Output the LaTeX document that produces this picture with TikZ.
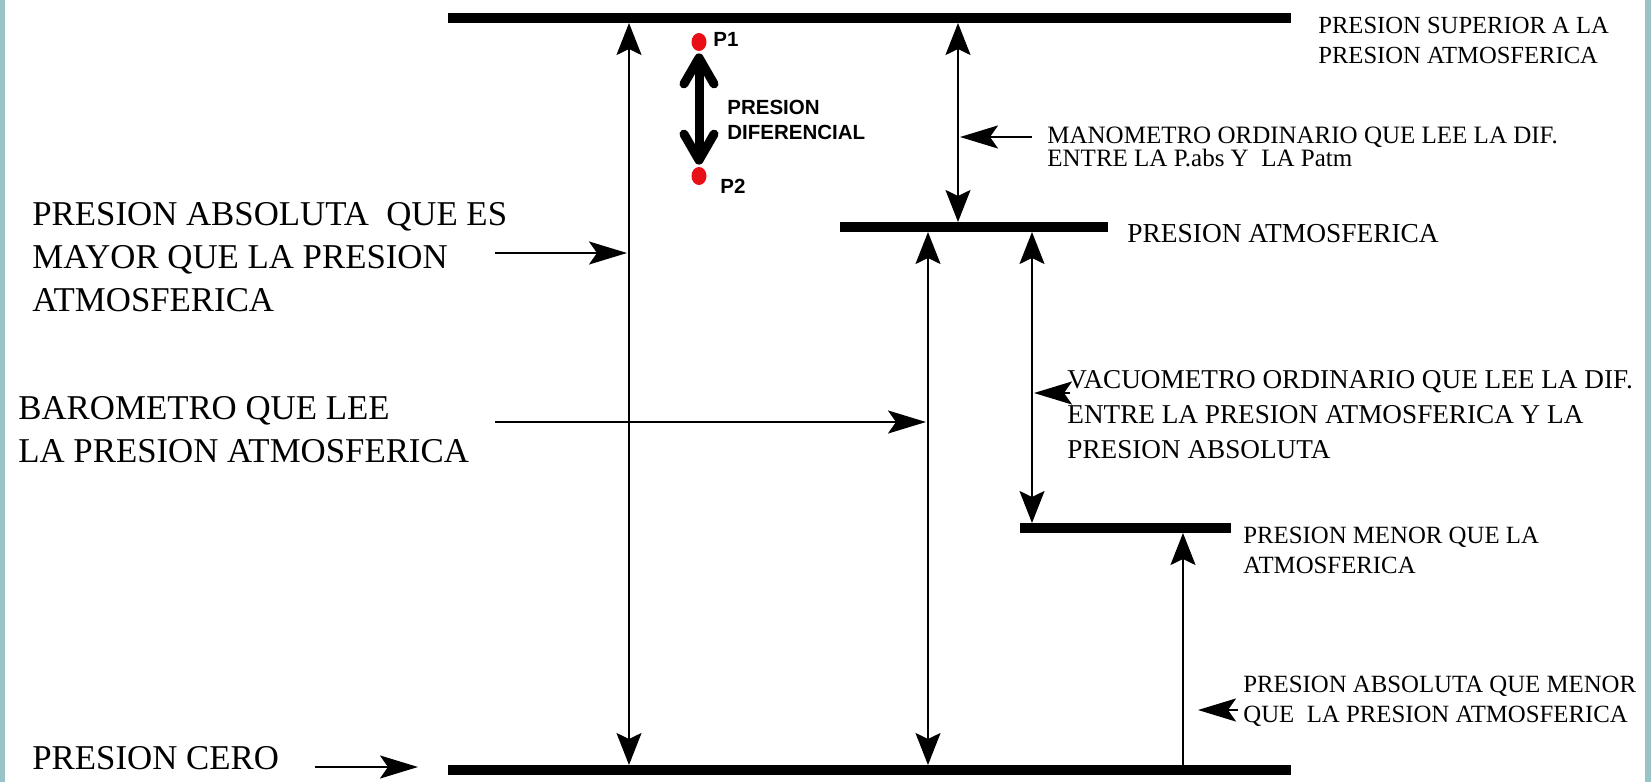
\documentclass[tikz,border=0pt]{standalone}
\usepackage{fontspec}
\setmainfont{Liberation Serif}
\newfontfamily\sansbold{Liberation Sans}
\usetikzlibrary{arrows.meta,shapes.geometric}
\definecolor{side_teal}{RGB}{152, 196, 199}
\definecolor{pt_red}{RGB}{232, 16, 22}
\tikzstyle{bar}=[line width=5pt]
\tikzstyle{gauge}=[line width=1pt,
  {Stealth[length=16pt,width=12.5pt,inset=3pt]}-{Stealth[length=16pt,width=12.5pt,inset=3pt]}]
\tikzstyle{rise}=[line width=1pt,-{Stealth[length=16pt,width=12.5pt,inset=3pt]}]
\tikzstyle{ptr}=[line width=1.25pt,-{Stealth[length=19pt,width=11.5pt,inset=4pt]}]
\tikzstyle{diff}=[line width=4.5pt,
  {Straight Barb[length=13pt,width=15pt,line cap=round,line join=round]}-{Straight Barb[length=13pt,width=15pt,line cap=round,line join=round]}]
\tikzstyle{dot}=[ellipse,fill=pt_red,inner sep=0pt,minimum width=7.5pt,minimum height=9pt]
\tikzstyle{lbig}=[inner sep=0pt,anchor=base west,align=left,font=\fontsize{17.4}{21.5}\selectfont]
\tikzstyle{lsup}=[inner sep=0pt,anchor=base west,align=left,font=\fontsize{12.3}{15}\selectfont]
\tikzstyle{lman}=[inner sep=0pt,anchor=base west,align=left,font=\fontsize{12.5}{11.5}\selectfont]
\tikzstyle{latm}=[inner sep=0pt,anchor=base west,align=left,font=\fontsize{13.7}{16}\selectfont]
\tikzstyle{lvac}=[inner sep=0pt,anchor=base west,align=left,font=\fontsize{13.6}{17.5}\selectfont]
\tikzstyle{lmen}=[inner sep=0pt,anchor=base west,align=left,font=\fontsize{12.4}{15}\selectfont]
\tikzstyle{lsb}=[inner sep=0pt,anchor=base west,align=left,font=\sansbold\bfseries\fontsize{10.25}{12.5}\selectfont]

\begin{document}
\begin{tikzpicture}[x=0.5pt,y=-0.5pt]
    \useasboundingbox (0,0) rectangle (1651,782);
    \fill[side_teal] (0,0) rectangle (5,782);
    \fill[side_teal] (1645,0) rectangle (1651,782);
    % pressure levels
    \coordinate (t1) at (448,18);
    \coordinate (t2) at (1291,18);
    \coordinate (a1) at (840,227);
    \coordinate (a2) at (1108,227);
    \coordinate (m1) at (1020,528);
    \coordinate (m2) at (1231,528);
    \coordinate (c1) at (448,770);
    \coordinate (c2) at (1291,770);
    \draw[bar] (t1) to (t2);
    \draw[bar] (a1) to (a2);
    \draw[bar] (m1) to (m2);
    \draw[bar] (c1) to (c2);
    % gauges between levels
    \coordinate (g1a) at (629,23);
    \coordinate (g1b) at (629,765);
    \coordinate (g2a) at (958,23);
    \coordinate (g2b) at (958,222);
    \coordinate (g3a) at (928,232);
    \coordinate (g3b) at (928,765);
    \coordinate (g4a) at (1032,232);
    \coordinate (g4b) at (1032,523);
    \coordinate (g5a) at (1183,765);
    \coordinate (g5b) at (1183,533);
    \draw[gauge] (g1a) to (g1b);
    \draw[gauge] (g2a) to (g2b);
    \draw[gauge] (g3a) to (g3b);
    \draw[gauge] (g4a) to (g4b);
    \draw[rise] (g5a) to (g5b);
    % labels (base = last line)
    \node[lbig] (abs) at (32,311) {PRESION ABSOLUTA\ \ QUE ES\\MAYOR QUE LA PRESION\\ATMOSFERICA};
    \node[lbig] (bar) at (18,462) {BAROMETRO QUE LEE\\LA PRESION ATMOSFERICA};
    \node[lbig] (cero) at (32,769) {PRESION CERO};
    \node[lsup] (sup) at (1318,63) {PRESION SUPERIOR A LA\\PRESION ATMOSFERICA};
    \node[lman] (man) at (1047,166) {MANOMETRO ORDINARIO QUE LEE LA DIF.\\ENTRE LA P.abs Y\ \ LA Patm};
    \node[latm] (atm) at (1127,242) {PRESION ATMOSFERICA};
    \node[lvac] (vac) at (1067,458) {VACUOMETRO ORDINARIO QUE LEE LA DIF.\\ENTRE LA PRESION ATMOSFERICA Y LA\\PRESION ABSOLUTA};
    \node[lmen] (men) at (1243,573) {PRESION MENOR QUE LA\\ATMOSFERICA};
    \node[lmen] (absm) at (1243,722) {PRESION ABSOLUTA QUE MENOR\\QUE\ \ LA PRESION ATMOSFERICA};
    % pointers
    \coordinate (q1) at (495,253);
    \coordinate (q1e) at (627,253);
    \coordinate (q2) at (495,422);
    \coordinate (q2e) at (926,422);
    \coordinate (q3) at (1032,137);
    \coordinate (q3e) at (960,137);
    \coordinate (q4) at (1070,393);
    \coordinate (q4e) at (1034,393);
    \coordinate (q5) at (1238,710);
    \coordinate (q5e) at (1198,710);
    \coordinate (q6) at (315,767);
    \coordinate (q6e) at (418,767);
    \draw[ptr] (q1) to (q1e);
    \draw[ptr] (q2) to (q2e);
    \draw[ptr] (q3) to (q3e);
    \draw[ptr] (q4) to (q4e);
    \draw[ptr] (q5) to (q5e);
    \draw[ptr] (q6) to (q6e);
    % differential pressure
    \node[dot] (p1) at (699,42) {};
    \node[dot] (p2) at (699,176) {};
    \draw[diff, shorten <=1pt, shorten >=1pt] (p1) to (p2);
    \node[lsb] (lp1) at (713,46) {P1};
    \node[lsb] (lp2) at (720,193) {P2};
    \node[lsb] (ldif) at (727,139) {PRESION\\DIFERENCIAL};
\end{tikzpicture}
\end{document}
